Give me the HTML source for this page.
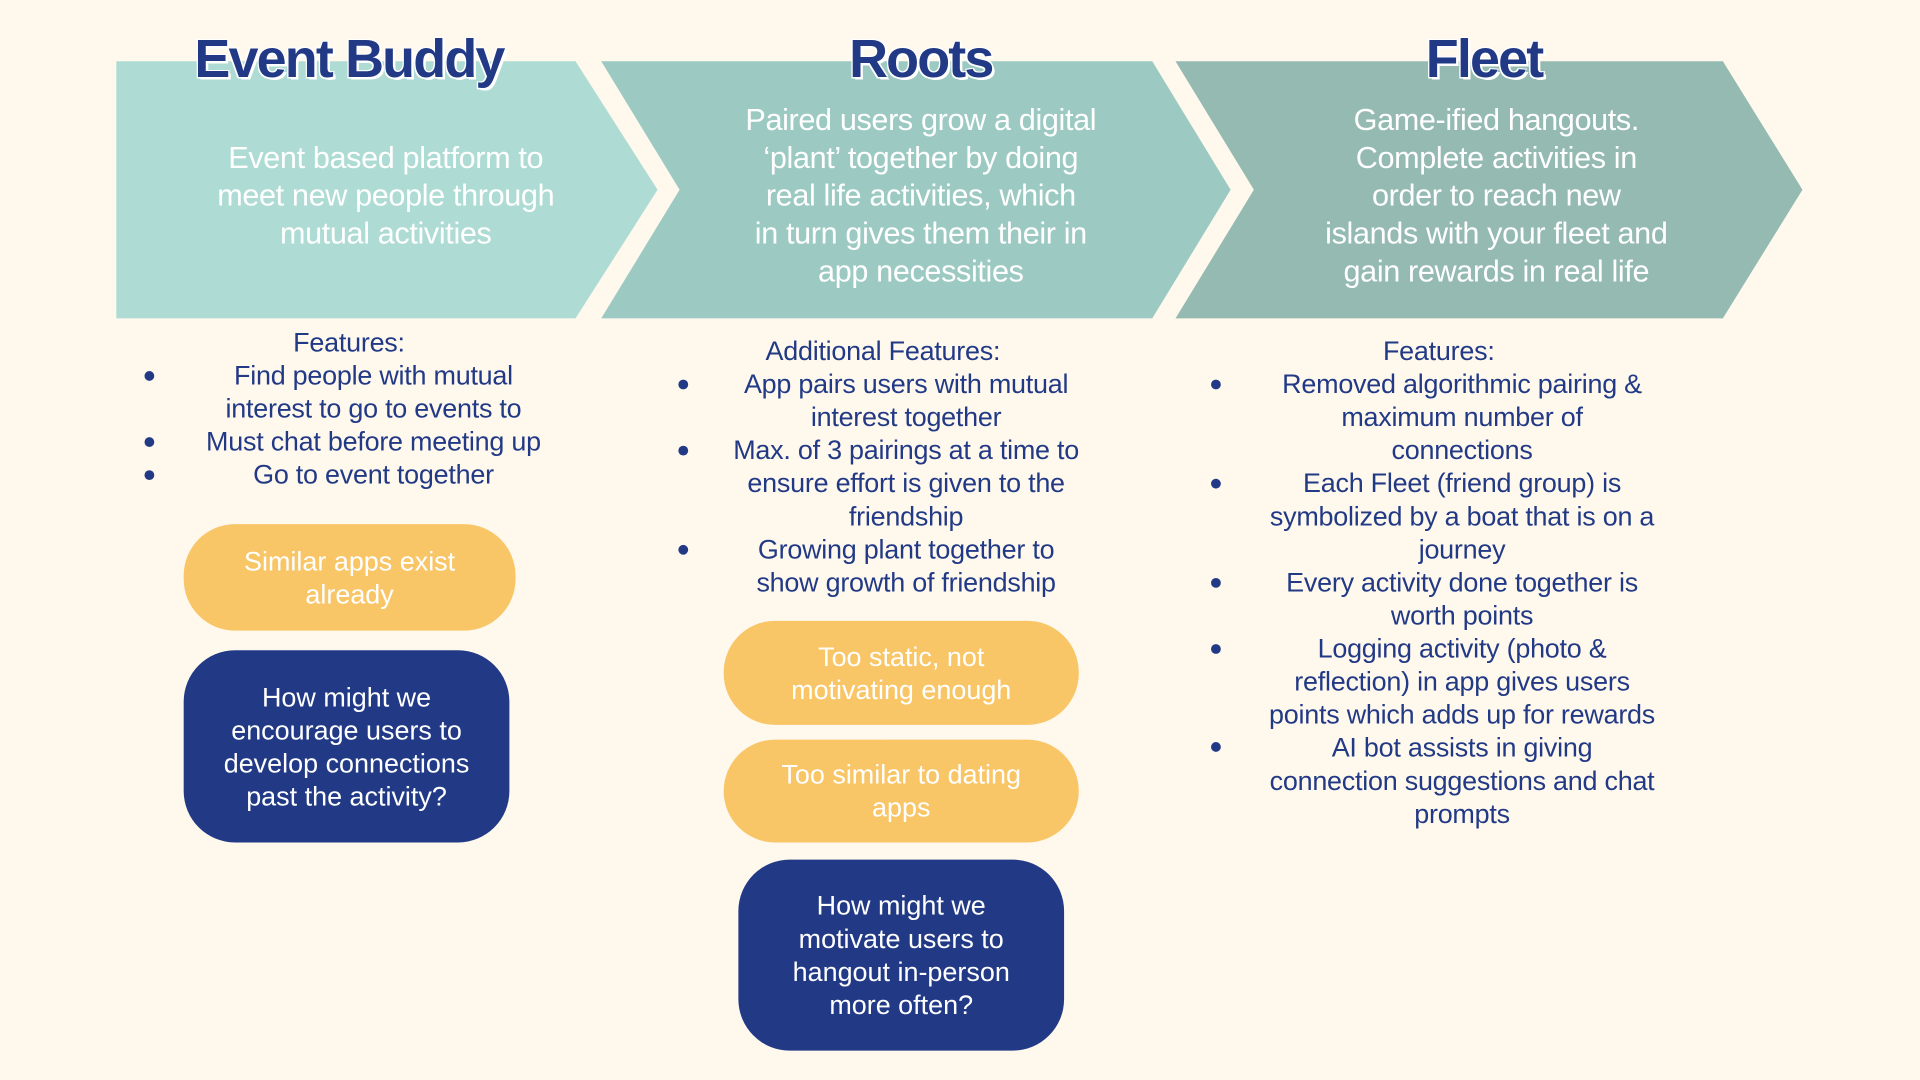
<!DOCTYPE html>
<html><head><meta charset="utf-8"><style>
html,body{margin:0;padding:0;background:#fef8ed;overflow:hidden}
#w{position:absolute;left:0;top:0;width:1568px;height:882px;transform:scale(1.22449);transform-origin:0 0;font-family:"Liberation Sans",sans-serif}
.t{position:absolute;white-space:nowrap;transform:translateX(-50%);text-align:center}
.h{font-weight:bold;font-size:44px;color:#223a86;letter-spacing:-1.5px;text-shadow:2px 2px 0 #fff,-1px -1px 0 #fff,1px -1px 0 #fff,-1px 1px 0 #fff;line-height:50px}
.w{color:#fff;font-size:25px;line-height:31px;letter-spacing:-0.3px}
.b{color:#223a86;font-size:22px;line-height:27px;letter-spacing:-0.2px}
.d{position:absolute;width:8px;height:8px;border-radius:50%;background:#223a86}
.p{position:absolute;display:flex;align-items:center;justify-content:center;text-align:center;color:#fff;font-size:22px;line-height:27px;border-radius:42px}
.y{background:#f9c667}.n{background:#223a86}
</style></head><body><div id="w">
<svg width="1568" height="882" style="position:absolute;left:0;top:0">
<polygon points="95,50 470,50 537,155 470,260 95,260" fill="#aedcd4"/>
<polygon points="491,50 941,50 1005,155 941,260 491,260 555,155" fill="#9ccac3"/>
<polygon points="960,50 1407,50 1472,155 1407,260 960,260 1024,155" fill="#94bab1"/>
</svg>
<div class="t h" style="left:285px;top:24px">Event Buddy</div>
<div class="t h" style="left:752px;top:24px">Roots</div>
<div class="t h" style="left:1212px;top:24px">Fleet</div>

<div class="t w" style="left:315px;top:114px">Event based platform to<br>meet new people through<br>mutual activities</div>
<div class="t w" style="left:752px;top:83px">Paired users grow a digital<br>‘plant’ together by doing<br>real life activities, which<br>in turn gives them their in<br>app necessities</div>
<div class="t w" style="left:1222px;top:83px">Game-ified hangouts.<br>Complete activities in<br>order to reach new<br>islands with your fleet and<br>gain rewards in real life</div>

<div class="t b" style="left:285px;top:266px">Features:</div>
<div class="t b" style="left:305px;top:293px">Find people with mutual<br>interest to go to events to<br>Must chat before meeting up<br>Go to event together</div>
<div class="d" style="left:118px;top:303px"></div><div class="d" style="left:118px;top:357px"></div><div class="d" style="left:118px;top:384px"></div>

<div class="t b" style="left:721px;top:273px">Additional Features:</div>
<div class="t b" style="left:740px;top:300px">App pairs users with mutual<br>interest together<br>Max. of 3 pairings at a time to<br>ensure effort is given to the<br>friendship<br>Growing plant together to<br>show growth of friendship</div>
<div class="d" style="left:554px;top:310px"></div><div class="d" style="left:554px;top:364px"></div><div class="d" style="left:554px;top:445px"></div>

<div class="t b" style="left:1175px;top:273px">Features:</div>
<div class="t b" style="left:1194px;top:300px">Removed algorithmic pairing &amp;<br>maximum number of<br>connections<br>Each Fleet (friend group) is<br>symbolized by a boat that is on a<br>journey<br>Every activity done together is<br>worth points<br>Logging activity (photo &amp;<br>reflection) in app gives users<br>points which adds up for rewards<br>AI bot assists in giving<br>connection suggestions and chat<br>prompts</div>
<div class="d" style="left:989px;top:310px"></div><div class="d" style="left:989px;top:391px"></div><div class="d" style="left:989px;top:472px"></div><div class="d" style="left:989px;top:526px"></div><div class="d" style="left:989px;top:606px"></div>

<div class="p y" style="left:150px;top:428px;width:271px;height:87px">Similar apps exist<br>already</div>
<div class="p n" style="left:150px;top:531px;width:266px;height:157px">How might we<br>encourage users to<br>develop connections<br>past the activity?</div>
<div class="p y" style="left:591px;top:507px;width:290px;height:85px">Too static, not<br>motivating enough</div>
<div class="p y" style="left:591px;top:604px;width:290px;height:84px">Too similar to dating<br>apps</div>
<div class="p n" style="left:603px;top:702px;width:266px;height:156px">How might we<br>motivate users to<br>hangout in-person<br>more often?</div>
</div></body></html>
